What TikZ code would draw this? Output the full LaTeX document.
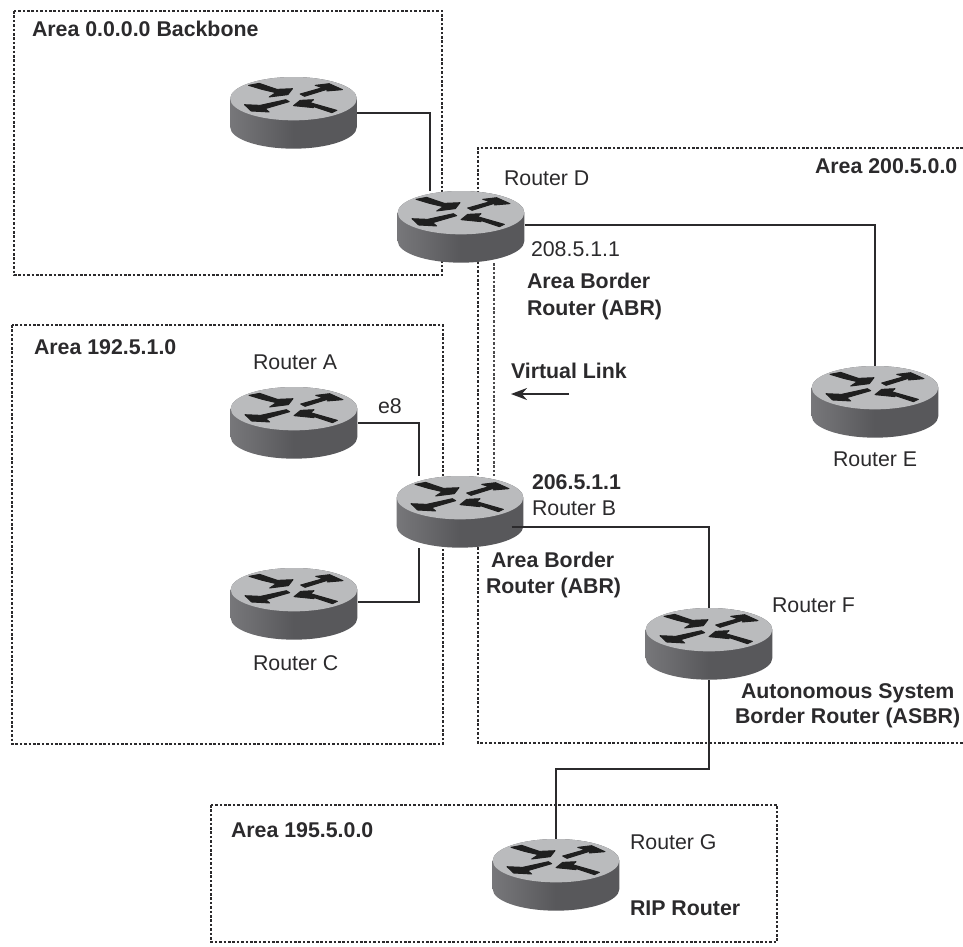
\documentclass[tikz,border=0pt]{standalone}
\usepackage{fontspec}
\setmainfont{Liberation Sans}
\usetikzlibrary{arrows.meta}
\definecolor{inkc}{HTML}{2B2A2C}
\definecolor{rtop}{HTML}{BABBBD}
\definecolor{rside}{HTML}{58585B}
\definecolor{rsideL}{HTML}{77777A}
\tikzset{
  x=0.75pt,y=-0.75pt,
  routerbox/.style={rectangle,inner sep=0pt,outer sep=0pt,minimum width=95.25pt,minimum height=54pt},
  area/.style={draw=inkc,line width=2.1pt,dash pattern=on 1.9pt off 1.4pt},
  vlink/.style={draw=inkc!85,line width=1.7pt,dash pattern=on 1.9pt off 1.4pt},
  wire/.style={draw=inkc,line width=1.3pt},
  glyph/.style={fill=black!88,draw=black!88,line width=0.7pt,line join=round},
  lab/.style={anchor=base west,inner sep=0pt,outer sep=0pt,text=inkc,font=\fontsize{16}{18}\selectfont},
  blab/.style={lab,font=\fontsize{16}{18}\selectfont\bfseries},
}
\newcommand{\routerart}[1]{%
  \begin{scope}[shift={(#1.center)},scale=1/3,shift={(-245,-173)}]
    \path[left color=rsideL,right color=rside,middle color=rside]
      (55,130) -- (55,215) arc[start angle=180,end angle=0,x radius=190,y radius=65] -- (435,130)
      arc[start angle=0,end angle=-180,x radius=190,y radius=65] -- cycle;
    \fill[rtop] (245,130) ellipse[x radius=190,y radius=65];
    \path[glyph] (110,90)--(142,84)--(195,102)--(242,100)--(228,118)--(172,125)--(192,112)--(150,102)--cycle;
    \path[glyph] (265,116)--(332,97)--(310,90)--(352,85)--(392,103)--(345,107)--(352,100)--(278,123)--cycle;
    \path[glyph] (98,148)--(145,150)--(222,133)--(232,139)--(160,160)--(172,170)--(118,167)--cycle;
    \path[glyph] (245,151)--(265,135)--(305,133)--(295,142)--(375,165)--(360,172)--(300,152)--(305,157)--cycle;
  \end{scope}}
\begin{document}
\begin{tikzpicture}
\useasboundingbox (0,0) rectangle (963,946);
% area boundaries
\draw[area] (14,11) rectangle (442,275);
\draw[area] (12,325) rectangle (443,744);
\draw[area] (963,148) -- (478,148) -- (478,743) -- (963,743);
\draw[area] (211,805) rectangle (777,942);
% routers
\node[routerbox] (T) at (293.5,113) {};
\node[routerbox] (D) at (461,227) {};
\node[routerbox] (A) at (294,423) {};
\node[routerbox] (B) at (460,512) {};
\node[routerbox] (C) at (294,604) {};
\node[routerbox] (E) at (875,402) {};
\node[routerbox] (F) at (709,644) {};
\node[routerbox] (G) at (556,875) {};
% virtual link
\draw[vlink] ([xshift=24.75pt]D.south) -- ([xshift=24.75pt]D.south |- B.north);
% connectors
\draw[wire] (T.east) -| ([xshift=-23.25pt]D.north);
\draw[wire] ([yshift=1.5pt]D.east) -| (E.north);
\draw[wire] (A.east) -| ([xshift=-30.75pt]B.north);
\draw[wire] ([yshift=1.5pt]C.east) -| ([xshift=-30.75pt]B.south);
\coordinate (fg) at (632,769);
\draw[wire] (F.south) |- (fg) -| (G.north);
% router drawings
\foreach \r in {T,D,A,B,C,E,F,G}{\routerart{\r}}
\draw[wire] ([yshift=-11.25pt,xshift=-9pt]B.east) -| (F.north);
% labels
\node[blab] (l1) at (32,36) {Area 0.0.0.0 Backbone};
\node[lab] (l2) at (504,185) {Router D};
\node[blab] (l3) at (815,173) {Area 200.5.0.0};
\node[lab] (l4) at (531,256) {208.5.1.1};
\node[blab] (l5) at (527,288) {Area Border};
\node[blab] (l6) at (527,315) {Router (ABR)};
\node[blab] (l7) at (511,378) {Virtual Link};
\coordinate (vs) at (569,394);
\coordinate (ve) at (511,394);
\draw[draw=inkc,line width=1.5pt,-{Stealth[length=12pt,width=9pt]}] (vs) -- (ve);
\node[blab] (l8) at (34,354) {Area 192.5.1.0};
\node[lab] (l9) at (253,369) {Router A};
\node[lab] (l10) at (378,413) {e8};
\node[blab] (l11) at (532,489) {206.5.1.1};
\node[lab] (l12) at (532,515) {Router B};
\node[blab] (l13) at (491,567) {Area Border};
\node[blab] (l14) at (486,593) {Router (ABR)};
\node[lab] (l15) at (833,466) {Router E};
\node[lab] (l16) at (253,670) {Router C};
\node[lab] (l17) at (772,612) {Router F};
\node[blab] (l18) at (741,698) {Autonomous System};
\node[blab] (l19) at (735,723) {Border Router (ASBR)};
\node[blab] (l20) at (231,837) {Area 195.5.0.0};
\node[lab] (l21) at (630,849) {Router G};
\node[blab] (l22) at (630,915) {RIP Router};
\end{tikzpicture}
\end{document}
